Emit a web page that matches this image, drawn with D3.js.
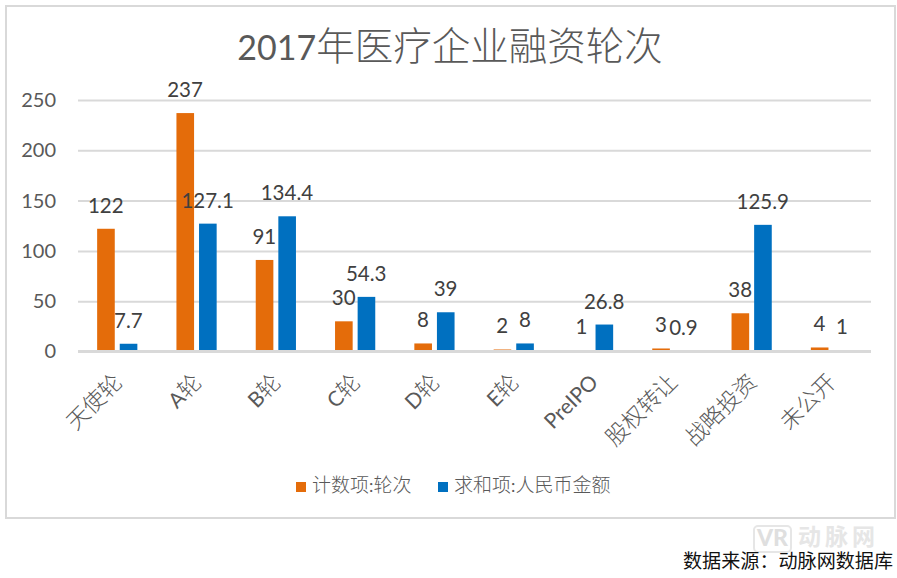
<!DOCTYPE html>
<html><head><meta charset="utf-8">
<script src="https://cdnjs.cloudflare.com/ajax/libs/d3/7.8.5/d3.min.js"></script>
<style>html,body{margin:0;padding:0;background:#fff}svg{display:block}</style>
</head><body><svg id="c" width="897" height="578"></svg>
<script>
const categories = ["天使轮","A轮","B轮","C轮","D轮","E轮","PreIPO","股权转让","战略投资","未公开"];
const countValues = [122,237,91,30,8,2,1,3,38,4];
const amountValues = [7.7,127.1,134.4,54.3,39,8,26.8,0.9,125.9,1];
const seriesNames = ["计数项:轮次","求和项:人民币金额"];
const seriesColors = ["#E46C0A","#0070C0"];
const yTicks = [0,50,100,150,200,250];
const titleText = "2017年医疗企业融资轮次";
const sourceText = "数据来源：动脉网数据库";

const CJK = "'Noto Sans CJK SC'";
const LAT = "Lato, 'Noto Sans'";
const svg = d3.select("#c");
function runs(sel, text, cjkSize, latSize, weight){
  const parts = text.match(/[\u3000-\u9fff\uff00-\uffef]+|[^\u3000-\u9fff\uff00-\uffef]+/g);
  sel.text(null);
  parts.forEach(p=>{
    const isC = /[\u3000-\u9fff\uff00-\uffef]/.test(p);
    sel.append("tspan").text(p)
      .attr("font-family", isC?CJK:LAT)
      .attr("font-size", isC?cjkSize:latSize)
      .attr("font-weight", isC?(weight||300):400);
  });
}
// frame
svg.append("rect").attr("x",6).attr("y",6).attr("width",889).attr("height",512)
  .attr("fill","#fff").attr("stroke","#d9d9d9").attr("stroke-width",2);

const x = d3.scaleBand().domain(categories).range([78,871]);
const xs = d3.scaleBand().domain([0,1]).range([0,x.bandwidth()]).paddingInner(0.22).paddingOuter(0.865);
const y = d3.scaleLinear().domain([0,250]).range([351.5,100]);

// y axis & grid
const ga = svg.append("g").attr("transform","translate(78,0)")
  .call(d3.axisLeft(y).tickValues(yTicks).tickSize(-793).tickPadding(22));
ga.select(".domain").remove();
ga.selectAll("line").attr("stroke","#d9d9d9").attr("stroke-width",2);
ga.selectAll("text").attr("font-family",LAT).attr("font-size",20).attr("fill","#595959");

// bars
[countValues,amountValues].forEach((vals,s)=>{
  svg.append("g").selectAll("rect").data(vals).join("rect")
    .attr("x",(d,i)=>x(categories[i])+xs(s)-0.4)
    .attr("width",xs.bandwidth())
    .attr("y",d=>y(d))
    .attr("height",d=>y(0)-y(d))
    .attr("fill",seriesColors[s]);
});
// baseline over bars: hides values of about 1, as in the reference
svg.append("line").attr("x1",78).attr("x2",871).attr("y1",351.25).attr("y2",351.25)
  .attr("stroke","#d9d9d9").attr("stroke-width",2.5);

// data labels
[countValues,amountValues].forEach((vals,s)=>{
  svg.append("g").selectAll("text").data(vals).join("text")
    .attr("x",(d,i)=>x(categories[i])+xs(s)+xs.bandwidth()/2-0.6)
    .attr("y",d=>y(d)-16)
    .attr("text-anchor","middle")
    .attr("font-family",LAT).attr("font-size",20.5).attr("fill","#404040")
    .text(d=>d);
});

// x axis
const gx = svg.append("g").attr("transform",`translate(0,${y(0)})`)
  .call(d3.axisBottom(x).tickSize(0).tickPadding(0));
gx.select(".domain").remove();
gx.selectAll("text").each(function(d){
  const t = d3.select(this);
  t.attr("text-anchor","end").attr("fill","#595959")
   .attr("dy",0).attr("y",0).attr("x",0)
   .attr("transform",`translate(6,32) rotate(-45)`);
  runs(t,d,22.5,21);
});

// title
const tt = svg.append("text").attr("x",450).attr("y",60).attr("text-anchor","middle").attr("fill","#595959");
runs(tt,titleText,38.5,34);

// legend
const legendX = [296,438];
seriesNames.forEach((n,i)=>{
  svg.append("rect").attr("x",legendX[i]).attr("y",482).attr("width",10).attr("height",10).attr("fill",seriesColors[i]);
  const l = svg.append("text").attr("x",legendX[i]+16).attr("y",492).attr("fill","#595959");
  runs(l,n,19,17.5);
});

// watermark
const wm = svg.append("g");
wm.append("rect").attr("x",754).attr("y",526).attr("width",37).attr("height",26).attr("rx",4)
  .attr("fill","none").attr("stroke","#e6e6e6").attr("stroke-width",2);
wm.append("text").attr("x",772.5).attr("y",546).attr("text-anchor","middle").attr("font-family",LAT)
  .attr("font-weight",900).attr("font-size",23).attr("fill","#dfdfdf").text("VR");
wm.append("text").attr("x",798).attr("y",545).attr("font-family",CJK).attr("font-weight",700)
  .attr("font-size",23).attr("letter-spacing",4).attr("fill","#e6e6e6").text("动脉网");

// source
svg.append("text").attr("x",683).attr("y",568).attr("font-family",CJK).attr("font-size",19.1)
  .attr("fill","#111").text(sourceText);
</script></body></html>
